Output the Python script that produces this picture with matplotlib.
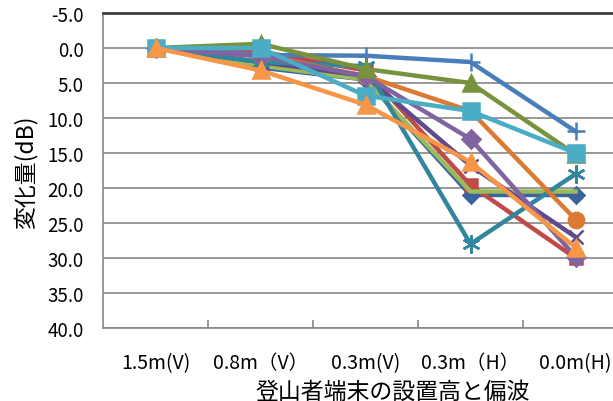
import matplotlib
matplotlib.use("Agg")
import matplotlib.pyplot as plt
from matplotlib.ticker import FixedLocator

plt.rcParams['font.family'] = ['Noto Sans CJK JP', 'DejaVu Sans']

# 設置高と偏波
categories = ['1.5m(V)', '0.8m（V）', '0.3m(V)', '0.3m（H）', '0.0m(H)']

# 各系列の変化量 (dB)
dblue_diamond = [0, 2.8, 4.5, 21.0, 21.0]
red_square = [0, 0.5, 3.2, 19.6, 30.0]
lgreen_line = [0, 2.5, 4.5, 20.5, 20.5]
dpurple_x = [0, 2.0, 4.0, 16.8, 27.0]
teal_star = [0, 2.0, 2.6, 28.0, 18.0]
orange_circle = [0, 1.0, 4.0, 9.0, 24.5]
blue_plus = [0, 1.0, 1.1, 2.0, 11.9]
purple_diamond = [0, 1.2, 4.0, 13.0, 29.8]
green_triangle = [0, -0.6, 3.0, 5.0, 15.2]
aqua_square = [0, 0, 6.8, 9.0, 15.0]
orange_triangle = [0, 3.2, 8.1, 16.3, 28.5]

series = [
    (dblue_diamond, '#3A64A0', 'D', 8),
    (red_square, '#BE4B48', 's', 9),
    (lgreen_line, '#9BBB59', 'None', 8),
    (dpurple_x, '#5F4A8B', 'x', 10),
    (teal_star, '#31859C', (6, 2, 0), 13),
    (orange_circle, '#DA7A33', 'o', 11),
    (blue_plus, '#4A7EBB', '+', 13),
    (purple_diamond, '#8064A2', 'D', 9),
    (green_triangle, '#77933C', '^', 11),
    (aqua_square, '#4BACC6', 's', 11),
    (orange_triangle, '#F79646', '^', 12),
]

fig = plt.figure(figsize=(6.13, 4.02), dpi=100)
ax = fig.add_axes([103 / 613, 1 - 329 / 402, 525 / 613, 315 / 402])

x = list(range(len(categories)))
for vals, color, marker, ms in series:
    ax.plot(x, vals, color=color, lw=3.2, marker=marker, markersize=ms,
            markerfacecolor=color, markeredgecolor=color, markeredgewidth=1.8,
            solid_joinstyle='round', clip_on=False, zorder=3)

ax.set_xlim(-0.5, 4.5)
ax.set_ylim(40, -5)
ax.set_yticks(range(-5, 41, 5))
ax.set_yticklabels([f'{v:.1f}' for v in range(-5, 41, 5)])
ax.set_xticks(x)
ax.set_xticklabels(categories, va='baseline')
ax.xaxis.set_minor_locator(FixedLocator([0.5, 1.5, 2.5, 3.5]))

ax.grid(axis='y', color='#868686', lw=1.2, zorder=0)
ax.set_axisbelow(True)

for side in ['left', 'bottom']:
    ax.spines[side].set_color('#868686')
    ax.spines[side].set_linewidth(1.2)
ax.spines['top'].set_color('#404040')
ax.spines['top'].set_linewidth(2)
ax.spines['right'].set_visible(False)

ax.tick_params(axis='y', length=0, pad=14, labelsize=13.5, colors='black')
ax.tick_params(axis='x', which='major', length=0, pad=29, labelsize=14)
ax.tick_params(axis='x', which='minor', length=6, width=1.2,
               color='#868686', direction='in')

fig.text(26 / 613, 1 - 172 / 402, '変化量(dB)', rotation=90,
         ha='center', va='center', fontsize=16.5)
fig.text(393 / 613, 1 - 392 / 402, '登山者端末の設置高と偏波',
         ha='center', va='center', fontsize=16.5)

fig.savefig('out.png', dpi=100)
